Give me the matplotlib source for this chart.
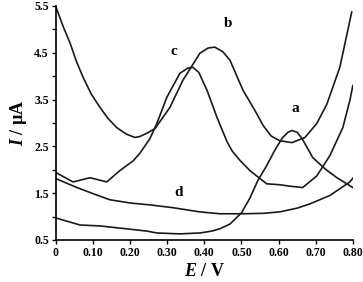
import matplotlib.pyplot as plt

# curve a
a_v = [0.0, 0.065, 0.119, 0.2, 0.245, 0.272, 0.334, 0.388, 0.42, 0.442, 0.469, 0.50, 0.523, 0.544, 0.568,
       0.59, 0.61, 0.625, 0.636, 0.65, 0.663, 0.692, 0.725, 0.757, 0.792, 0.80]
a_i = [0.97, 0.82, 0.80, 0.73, 0.69, 0.65, 0.63, 0.65, 0.69, 0.74, 0.84, 1.08, 1.40, 1.77, 2.09,
       2.42, 2.68, 2.80, 2.84, 2.80, 2.67, 2.26, 2.02, 1.83, 1.66, 1.62]

# curve b
b_v = [0.0, 0.02, 0.038, 0.055, 0.073, 0.095, 0.119, 0.14, 0.164, 0.19, 0.213, 0.226, 0.245, 0.267, 0.307,
       0.342, 0.388, 0.41, 0.428, 0.45, 0.469, 0.504, 0.541, 0.558, 0.58, 0.603, 0.636, 0.671, 0.703,
       0.73, 0.765, 0.797]
b_i = [5.48, 5.05, 4.71, 4.32, 3.98, 3.62, 3.33, 3.10, 2.90, 2.76, 2.69, 2.71, 2.78, 2.88, 3.33,
       3.91, 4.49, 4.60, 4.62, 4.52, 4.34, 3.70, 3.20, 2.95, 2.72, 2.62, 2.58, 2.69, 2.99,
       3.40, 4.19, 5.37]

# curve c
c_v = [0.0, 0.046, 0.092, 0.137, 0.172, 0.208, 0.226, 0.253, 0.272, 0.299, 0.334, 0.355, 0.369, 0.385,
       0.407, 0.434, 0.461, 0.475, 0.496, 0.523, 0.55, 0.568, 0.603, 0.63, 0.665, 0.703, 0.738, 0.773,
       0.792, 0.80]
c_i = [1.94, 1.74, 1.83, 1.74, 1.98, 2.19, 2.35, 2.66, 2.99, 3.55, 4.06, 4.17, 4.19, 4.08,
       3.70, 3.12, 2.60, 2.40, 2.20, 1.98, 1.81, 1.70, 1.68, 1.65, 1.62, 1.87, 2.30, 2.90,
       3.48, 3.80]

# curve d
d_v = [0.0, 0.057, 0.1, 0.145, 0.2, 0.253, 0.315, 0.388, 0.442, 0.504, 0.56, 0.603, 0.65, 0.684, 0.738,
       0.792, 0.80]
d_i = [1.81, 1.62, 1.49, 1.36, 1.29, 1.25, 1.19, 1.10, 1.06, 1.06, 1.07, 1.10, 1.18, 1.27, 1.45,
       1.74, 1.82]

labels = ["a", "b", "c", "d"]
label_pos = [(0.644, 3.3), (0.463, 5.13), (0.318, 4.53), (0.33, 1.51)]

x_ticks = [0, 0.1, 0.2, 0.3, 0.4, 0.5, 0.6, 0.7, 0.8]
x_ticklabels = ["0", "0.10", "0.20", "0.30", "0.40", "0.50", "0.60", "0.70", "0.80"]
y_ticks = [0.5, 1.5, 2.5, 3.5, 4.5, 5.5]
y_ticklabels = ["0.5", "1.5", "2.5", "3.5", "4.5", "5.5"]

plt.rcParams["font.family"] = ["Liberation Serif", "DejaVu Serif"]
plt.rcParams["mathtext.fontset"] = "custom"
plt.rcParams["mathtext.it"] = "Liberation Serif:italic:bold"
plt.rcParams["mathtext.rm"] = "Liberation Serif:bold"

fig = plt.figure(figsize=(3.63, 2.82), dpi=100)
ax = fig.add_axes([0.154, 0.149, 0.818, 0.83])

for v, i in [(a_v, a_i), (b_v, b_i), (c_v, c_i), (d_v, d_i)]:
    ax.plot(v, i, color="#1a1a1a", lw=1.2, solid_joinstyle="round")

for t, (x, y) in zip(labels, label_pos):
    ax.text(x, y, t, fontsize=11, fontweight="bold", ha="center", va="center")

ax.set_xlim(0, 0.8)
ax.set_ylim(0.5, 5.5)
ax.set_xticks(x_ticks)
ax.set_xticklabels(x_ticklabels, fontsize=8.5, fontweight="bold")
ax.set_yticks(y_ticks)
ax.set_yticklabels(y_ticklabels, fontsize=8.5, fontweight="bold")
ax.set_yticks([1.0, 2.0, 3.0, 4.0, 5.0], minor=True)
ax.tick_params(axis="both", which="both", direction="out", length=3, width=1, pad=2)
ax.spines["top"].set_visible(False)
ax.spines["right"].set_visible(False)
ax.spines["left"].set_linewidth(1.2)
ax.spines["bottom"].set_linewidth(1.2)

ax.set_xlabel("$E$ / V", fontsize=13, fontweight="bold", labelpad=3)
ax.set_ylabel("$I$ / µA", fontsize=13, fontweight="bold", labelpad=4)

fig.savefig("out.png", dpi=100)
